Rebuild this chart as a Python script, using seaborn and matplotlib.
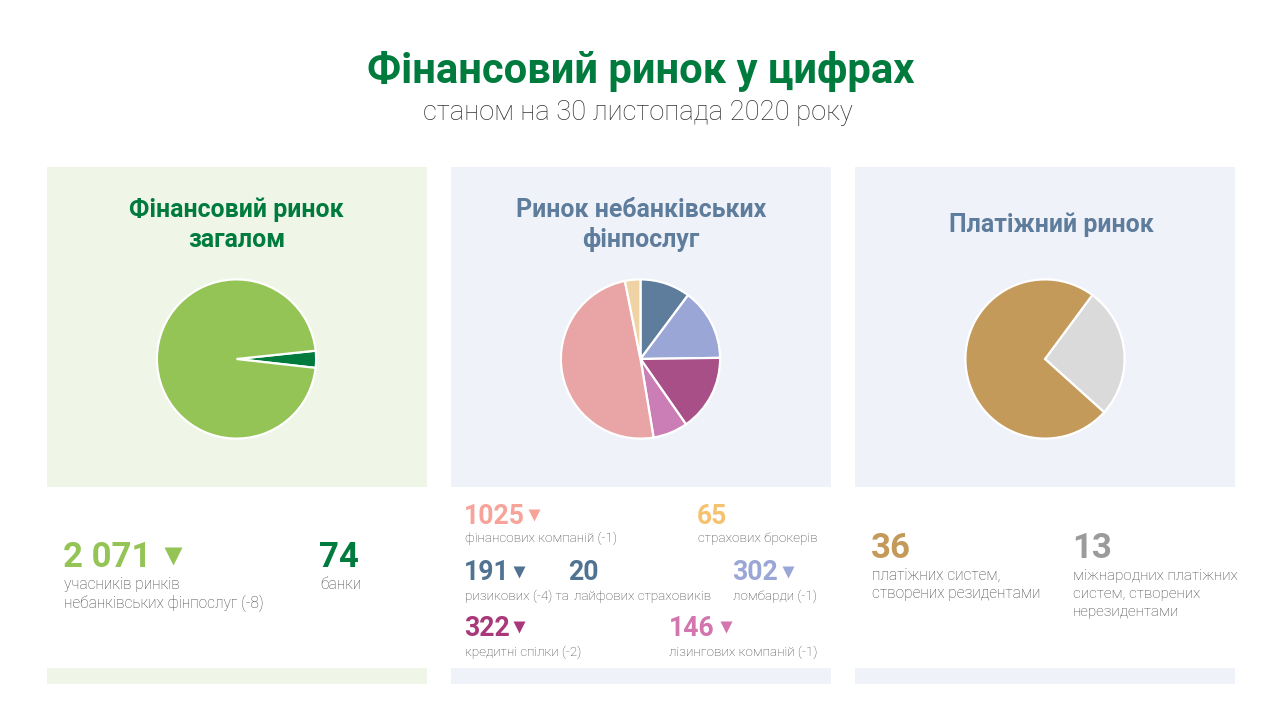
import matplotlib
matplotlib.use("Agg")
import matplotlib.pyplot as plt
import seaborn as sns

sns.set_theme(style="white")
plt.rcParams['font.family'] = ['Roboto', 'DejaVu Sans']

overall_labels = ["банки", "учасники"]
overall_values = [74, 2071]
overall_colors = ["#007A3D", "#94C356"]

nonbank_labels = ["ризикові та лайфові", "ломбарди", "кредитні спілки", "лізингові", "фінансові", "брокери"]
nonbank_values = [211, 302, 322, 146, 1025, 65]
nonbank_colors = ["#5E7C9B", "#9AA6D6", "#A94F87", "#CB7DB5", "#E9A5A5", "#F0D3A4"]

payment_labels = ["міжнародні", "резиденти"]
payment_values = [13, 36]
payment_colors = ["#DADADA", "#C49A5A"]

GREEN, SLATE = "#007B3E", "#5E7C9B"
DESC = "#444444"

fig = plt.figure(figsize=(12.8, 7.2), dpi=100, facecolor="white")
bg = fig.add_axes([0, 0, 1, 1])
bg.set_xlim(0, 1280)
bg.set_ylim(720, 0)
bg.axis("off")

for x, c in [(46.5, "#EFF6E7"), (450.5, "#F0F2FA"), (854.5, "#F0F2FA")]:
    bg.add_patch(plt.Rectangle((x, 167), 380, 320, fc=c, ec="none"))
    bg.add_patch(plt.Rectangle((x, 668), 380, 16, fc=c, ec="none"))


def pie(cx, vals, cols, start):
    r = 79.6
    cy = 359
    pad = 3
    ax = fig.add_axes([(cx - r - pad) / 1280, (720 - cy - r - pad) / 720,
                       (2 * r + 2 * pad) / 1280, (2 * r + 2 * pad) / 720])
    ax.pie(vals, colors=cols, startangle=start, counterclock=False, radius=1,
           wedgeprops=dict(edgecolor="white", linewidth=1.6))
    lim = (r + pad) / r
    ax.set_xlim(-lim, lim)
    ax.set_ylim(-lim, lim)
    ax.patch.set_alpha(0)


pie(236.5, overall_values, overall_colors, 6)
pie(640.5, nonbank_values, nonbank_colors, 90)
pie(1045, payment_values, payment_colors, 53.5)


def t(x, y, s, size, color, weight="normal", ha="left"):
    bg.text(x, y, s, fontsize=size, color=color, fontweight=weight, ha=ha, va="baseline")


t(640.5, 82.5, "Фінансовий ринок у цифрах", 30.1, GREEN, "bold", "center")
t(638, 120, "станом на 30 листопада 2020 року", 19.7, "#333333", "light", "center")

t(236.5, 217, "Фінансовий ринок", 17.9, GREEN, "bold", "center")
t(236.5, 247, "загалом", 17.9, GREEN, "bold", "center")
t(641, 217, "Ринок небанківських", 17.9, SLATE, "bold", "center")
t(641, 247, "фінпослуг", 17.9, SLATE, "bold", "center")
t(1051.5, 232, "Платіжний ринок", 17.9, SLATE, "bold", "center")

big = 25
mid = 19.2
side = 11.2
center_s = 9.7

t(63, 567, "2 071", big, "#94C356", "bold")
t(64, 589, "учасників ринків", side, DESC, "light")
t(64, 608, "небанківських фінпослуг (-8)", side, DESC, "light")
t(319, 567, "74", big, GREEN, "bold")
t(320, 589, "банки", side, DESC, "light")

t(464, 523.5, "1025", mid, "#F7A399", "bold")
t(465, 542, "фінансових компаній (-1)", center_s, DESC, "light")
t(697, 523.5, "65", mid, "#F5C36F", "bold")
t(698, 542, "страхових брокерів", center_s, DESC, "light")
t(464, 580, "191", mid, "#4F7391", "bold")
t(465, 600, "ризикових (-4) та", center_s, DESC, "light")
t(568, 580, "20", mid, "#4F7391", "bold")
t(574, 600, "лайфових страховиків", center_s, DESC, "light")
t(732, 580, "302", mid, "#9AA6D6", "bold")
t(733, 600, "ломбарди (-1)", center_s, DESC, "light")
t(464, 636.5, "322", mid, "#A8387A", "bold")
t(465, 656, "кредитні спілки (-2)", center_s, DESC, "light")
t(669, 636.5, "146", mid, "#D375AE", "bold")
t(669, 656, "лізингових компаній (-1)", center_s, DESC, "light")

t(871, 558.5, "36", big, "#C49A5A", "bold")
t(872, 580, "платіжних систем,", side, DESC, "light")
t(872, 598, "створених резидентами", side, DESC, "light")
t(1072, 558.5, "13", big, "#9B9B9B", "bold")
t(1073, 580, "міжнародних платіжних", 10.95, DESC, "light")
t(1073, 598, "систем, створених", 10.95, DESC, "light")
t(1073, 616, "нерезидентами", 10.95, DESC, "light")

markers = [(173, 556, 12.3, "#94C356"), (533.5, 515, 8.6, "#F7A399"), (518.5, 572, 8.6, "#4F7391"),
           (788, 572, 8.6, "#9AA6D6"), (518.5, 627, 8.6, "#A8387A"), (725.5, 627, 8.6, "#D375AE")]
for mx, my, ms, mc in markers:
    bg.plot([mx], [my], marker="v", ms=ms, color=mc, mec="none", ls="none")

fig.savefig("out.png", dpi=100)
